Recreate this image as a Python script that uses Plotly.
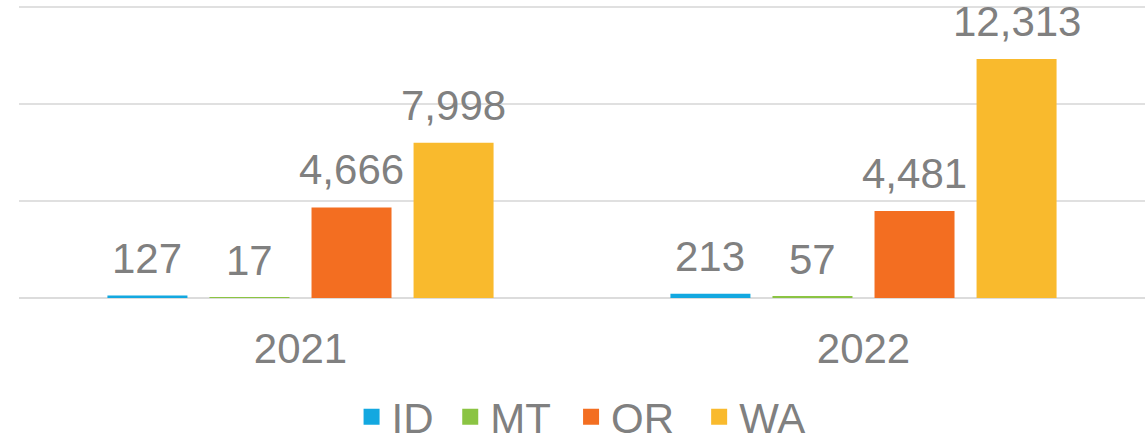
# Import libraries
import plotly.graph_objects as go

# Data
years = ["2021", "2022"]
states = ["ID", "MT", "OR", "WA"]
id_values = [127, 213]
mt_values = [17, 57]
or_values = [4666, 4481]
wa_values = [7998, 12313]

series = {"ID": id_values, "MT": mt_values, "OR": or_values, "WA": wa_values}
colors = {"ID": "#13A8E0", "MT": "#8BC443", "OR": "#F36E21", "WA": "#F9BA2D"}
# Trailing padding so legend entries spread like the original
legend_pad = {"ID": "\u00a0", "MT": "\u00a0\u200a", "OR": "\u00a0\u2009", "WA": "\u00a0"}

grey = "#808080"
font_family = "Liberation Sans, Arial, sans-serif"
bargap = 0.275
slot = (1 - bargap) / len(states)

fig = go.Figure()
# One bar trace per state, grouped by year
for k, state in enumerate(states):
    fig.add_trace(
        go.Bar(
            x=years,
            y=series[state],
            name=state,
            marker=dict(color=colors[state], line=dict(width=0)),
            showlegend=False,
        )
    )
    # Legend entry with a larger square swatch
    fig.add_trace(
        go.Scatter(
            x=[None],
            y=[None],
            mode="markers",
            name=state + legend_pad[state],
            marker=dict(symbol="square", size=22, color=colors[state]),
        )
    )
    # Value labels above each bar
    offset = (k - (len(states) - 1) / 2) * slot
    for i, val in enumerate(series[state]):
        fig.add_annotation(
            x=i + offset,
            y=val,
            xref="x",
            yref="y",
            text=f"{val:,}",
            showarrow=False,
            yanchor="bottom",
            yshift=12,
            font=dict(size=42, color=grey, family=font_family),
        )

# Layout Style
fig.update_layout(
    width=1148,
    height=438,
    barmode="group",
    bargap=bargap,
    bargroupgap=0.216,
    plot_bgcolor="white",
    paper_bgcolor="white",
    font=dict(family=font_family, size=42, color=grey),
    margin=dict(l=19, r=3, t=4, b=140, autoexpand=False),
    showlegend=True,
    legend=dict(
        orientation="h",
        x=0.5045,
        xanchor="center",
        y=-0.405,
        yanchor="middle",
        font=dict(size=42, color=grey),
        traceorder="normal",
        itemsizing="trace",
    ),
    xaxis=dict(
        showgrid=False,
        showline=False,
        ticks="outside",
        ticklen=14,
        tickcolor="rgba(0,0,0,0)",
        tickfont=dict(size=42, color=grey),
    ),
    yaxis=dict(
        range=[0, 15150],
        dtick=5000,
        showticklabels=False,
        showgrid=True,
        gridcolor="#E0E0E0",
        gridwidth=2,
        zeroline=True,
        zerolinecolor="#DCDCDC",
        zerolinewidth=2,
    ),
)

# Remove the default page margin so the figure sits at the window origin
fig.write_html(
    "out.html",
    config={"displayModeBar": False},
    post_script="document.body.style.margin = '0';",
)
